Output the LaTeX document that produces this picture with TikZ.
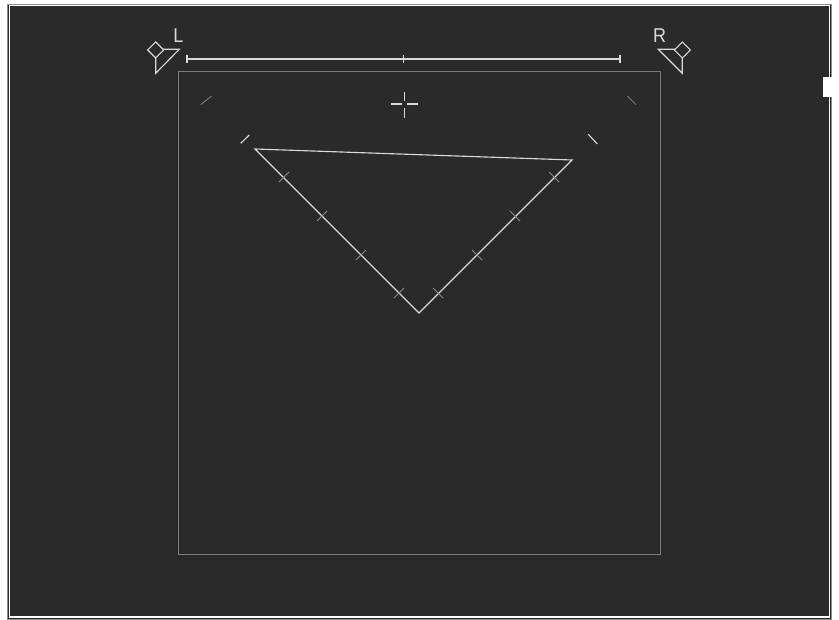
\documentclass[tikz,border=0pt]{standalone}
\usepackage{xcolor}
\usepackage{fontspec}
\setmainfont{Liberation Sans}
\usepackage{tikz}
\definecolor{panelbg}{RGB}{42,42,42}
\definecolor{framegray}{RGB}{125,125,125}
\tikzstyle{stage} = [draw=framegray, line width=0.7pt]
\tikzstyle{bright} = [draw=black!15, line width=0.85pt, line join=miter]
\tikzstyle{tick} = [draw=black!45, line width=0.55pt]
\tikzstyle{label} = [text=black!15, inner sep=0pt, xscale=0.9, font=\fontsize{15}{15}\selectfont]

\begin{document}
\begin{tikzpicture}[x=0.75pt, y=-0.75pt]
    \useasboundingbox (0,0) rectangle (839,620);

    % Panel and outer frame
    \fill[white] (0,0) rectangle (839,620);
    \draw[draw=black!45, line width=0.6pt, fill=panelbg] (7.5,4) rectangle (831,619);
    \draw[white, line width=1.2pt] (9.5,5.5) rectangle (829.5,617);
    \fill[white] (823,77) rectangle (833,97);

    % Stage square
    \draw[stage] (178,71) rectangle (660,554);

    % Scale bar
    \coordinate (barL) at (187,59);
    \coordinate (barM) at (403.5,59);
    \coordinate (barR) at (620,59);
    \draw[bright] (barL) -- (barR);
    \foreach \p in {barL,barM,barR}
        \draw[bright] ([yshift=-3pt]\p) -- ([yshift=3pt]\p);

    % Speakers
    \draw[bright] (155.7,42) -- (163.7,50) -- (155.7,58) -- (147.7,50) -- cycle;
    \draw[bright] (163,49.3) -- (179.3,49.3) -- (155.7,73.3) -- (155.7,58);
    \node[label] (labelL) at (178.5,35.5) {L};
    \draw[bright] (682.3,42) -- (690.3,50) -- (682.3,58) -- (674.3,50) -- cycle;
    \draw[bright] (675,49.3) -- (658.3,49.3) -- (682.3,73.3) -- (682.3,58);
    \node[label] (labelR) at (659.5,35.5) {R};

    % Crosshair
    \draw[bright] (390.7,104) -- (401.7,104) (407,104) -- (418,104);
    \draw[bright] (404.7,91.7) -- (404.7,100.7) (404.7,108) -- (404.7,118);

    % Triangle
    \coordinate (apexL) at (255,149);
    \coordinate (apexR) at (572,160);
    \coordinate (apexB) at (419,313);
    \draw[bright] (apexL) -- (apexR) -- (apexB) -- cycle;

    % Ticks across the sides
    \foreach \x/\y in {284/177,322/216,361/255,399/293}
        \draw[tick] (\x-5,\y+5) -- (\x+5,\y-5);
    \foreach \x/\y in {438/293,477/255,515/216,554/177}
        \draw[tick] (\x-5,\y-5) -- (\x+5,\y+5);

    % Corner marks
    \draw[tick] (200.7,104.7) -- (211.7,96);
    \draw[bright] (240.7,143.3) -- (249.3,135);
    \draw[tick] (627.3,96) -- (636,104.7);
    \draw[bright] (588.3,134.3) -- (597.3,144);
\end{tikzpicture}
\end{document}
